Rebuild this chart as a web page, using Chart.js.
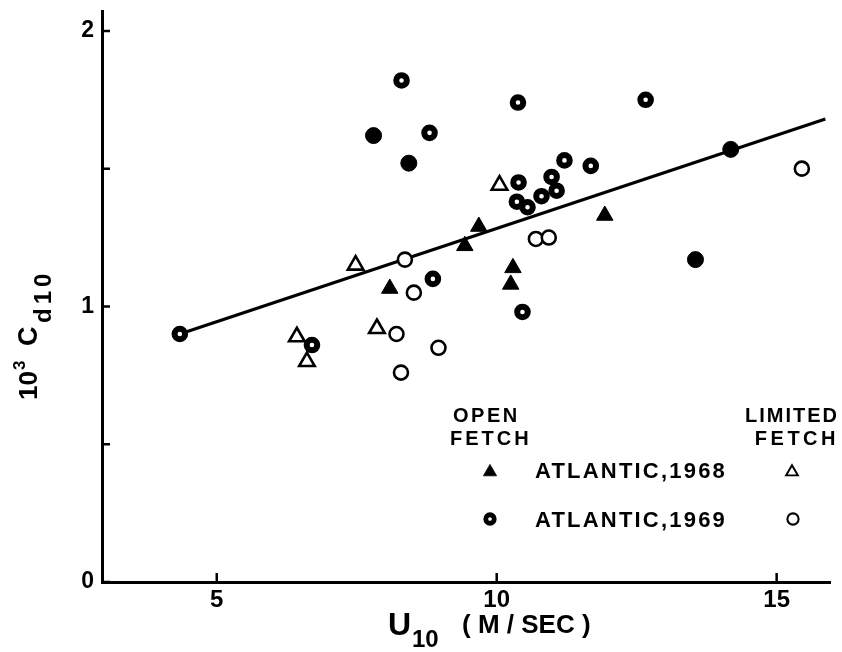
<!DOCTYPE html>
<html>
<head>
<meta charset="utf-8">
<script src="https://cdn.jsdelivr.net/npm/chart.js@4/dist/chart.umd.min.js"></script>
<style>
  html, body { margin: 0; padding: 0; background: #fff; }
  canvas { display: block; }
</style>
</head>
<body>
<canvas id="cd" width="842" height="652"></canvas>
<script>
// Wind speed U10 (m/s) and drag coefficient 10^3 * Cd10
const open1968U  = [8.09, 9.43, 9.68, 10.29, 10.25, 11.93];
const open1968Cd = [1.065, 1.22, 1.29, 1.14, 1.08, 1.33];

const limited1968U  = [6.43, 6.61, 7.48, 7.86, 10.05];
const limited1968Cd = [0.89, 0.80, 1.15, 0.92, 1.44];

const open1969U  = [4.34, 8.30, 8.80, 6.70, 8.86, 10.39, 10.36, 10.55, 10.80, 10.98, 11.07, 11.21, 11.68, 12.66, 10.46, 10.38];
const open1969Cd = [0.90, 1.82, 1.63, 0.86, 1.10, 1.45, 1.38, 1.36, 1.40, 1.47, 1.42, 1.53, 1.51, 1.75, 0.98, 1.74];

const limited1969U  = [8.36, 8.52, 8.21, 8.96, 8.29, 10.70, 10.93, 15.45];
const limited1969Cd = [1.17, 1.05, 0.90, 0.85, 0.76, 1.245, 1.25, 1.50];

const solidU  = [7.80, 8.43, 14.18, 13.55];
const solidCd = [1.62, 1.52, 1.57, 1.17];

// fitted line end points
const fitU  = [4.34, 15.87];
const fitCd = [0.90, 1.68];

const xTicks = [5, 10, 15];
const yTicks = [0, 0.5, 1, 1.5, 2];
const yLabelled = [0, 1, 2];

const FONT = '"Liberation Sans", Arial, Helvetica, sans-serif';
const pts = (xs, ys) => xs.map((x, i) => ({ x, y: ys[i] }));

// marker styles shared by plot and key
const styles = {
  open1968:    { pointStyle: 'triangle', radius: 9.5, borderWidth: 1,   fill: '#000', stroke: '#000' },
  limited1968: { pointStyle: 'triangle', radius: 9,   borderWidth: 2.6, fill: 'rgba(0,0,0,0)', stroke: '#000' },
  open1969:    { pointStyle: 'circle',   radius: 5.3, borderWidth: 6,   fill: '#fff', stroke: '#000' },
  limited1969: { pointStyle: 'circle',   radius: 7,   borderWidth: 2.6, fill: '#fff', stroke: '#000' },
  solid:       { pointStyle: 'circle',   radius: 8,   borderWidth: 1,   fill: '#000', stroke: '#000' }
};

function pointSet(label, xs, ys, st) {
  return {
    label, data: pts(xs, ys), order: 1,
    pointStyle: st.pointStyle, pointRadius: st.radius, pointHoverRadius: st.radius,
    pointBorderWidth: st.borderWidth, pointBackgroundColor: st.fill, pointBorderColor: st.stroke
  };
}

function drawMarker(ctx, st, x, y, scale) {
  ctx.save();
  ctx.fillStyle = st.fill;
  ctx.strokeStyle = st.stroke;
  ctx.lineWidth = st.borderWidth * scale;
  Chart.helpers.drawPoint(ctx, {
    pointStyle: st.pointStyle, radius: st.radius * scale, rotation: 0,
    borderWidth: st.borderWidth * scale
  }, x, y);
  ctx.restore();
}

function text(ctx, str, x, y, size, spacing, align) {
  ctx.font = 'bold ' + size + 'px ' + FONT;
  ctx.letterSpacing = (spacing || 0) + 'px';
  ctx.textAlign = align || 'left';
  ctx.fillText(str, x, y);
}

const decorations = {
  id: 'decorations',
  afterDraw(chart) {
    const { ctx, chartArea: a, scales: { x, y } } = chart;
    ctx.save();
    // inward tick marks
    ctx.strokeStyle = '#000';
    ctx.lineWidth = 2.5;
    ctx.beginPath();
    yTicks.forEach(v => { const py = y.getPixelForValue(v); ctx.moveTo(a.left, py); ctx.lineTo(a.left + 8, py); });
    xTicks.forEach(v => { const px = x.getPixelForValue(v); ctx.moveTo(px, a.bottom); ctx.lineTo(px, a.bottom - 9); });
    ctx.stroke();

    ctx.fillStyle = '#000';
    ctx.textBaseline = 'alphabetic';

    // x axis title
    text(ctx, 'U', 388, 635, 32);
    text(ctx, '10', 412, 647, 24);
    text(ctx, '( M / SEC )', 462, 633, 26);

    // y axis title, rotated
    ctx.save();
    ctx.translate(37, 400);
    ctx.rotate(-Math.PI / 2);
    text(ctx, '10', 0, 0, 26);
    text(ctx, '3', 30, -12, 17);
    text(ctx, 'C', 54, 0, 27);
    text(ctx, 'd10', 77, 14, 24, 4);
    ctx.restore();

    // key
    text(ctx, 'OPEN', 453, 422, 20, 2.5);
    text(ctx, 'FETCH', 450, 445, 20, 3);
    text(ctx, 'LIMITED', 839, 422, 20, 2, 'right');
    text(ctx, 'FETCH', 839, 445, 20, 3.5, 'right');
    text(ctx, 'ATLANTIC,1968', 535, 478, 22, 2.2);
    text(ctx, 'ATLANTIC,1969', 535, 527, 22, 2.2);
    ctx.restore();

    drawMarker(ctx, styles.open1968, 490, 472, 0.8);
    drawMarker(ctx, styles.limited1968, 792, 472, 0.75);
    drawMarker(ctx, styles.open1969, 490, 519, 0.8);
    drawMarker(ctx, styles.limited1969, 793, 519, 0.8);
  }
};

new Chart(document.getElementById('cd'), {
  type: 'scatter',
  data: {
    datasets: [
      { label: 'fit', type: 'line', data: pts(fitU, fitCd), borderColor: '#000', borderWidth: 3.2,
        pointRadius: 0, fill: false, order: 10 },
      pointSet('Open fetch, Atlantic 1968', open1968U, open1968Cd, styles.open1968),
      pointSet('Limited fetch, Atlantic 1968', limited1968U, limited1968Cd, styles.limited1968),
      pointSet('Open fetch, Atlantic 1969', open1969U, open1969Cd, styles.open1969),
      pointSet('Limited fetch, Atlantic 1969', limited1969U, limited1969Cd, styles.limited1969),
      pointSet('Other runs', solidU, solidCd, styles.solid)
    ]
  },
  options: {
    responsive: false,
    animation: false,
    devicePixelRatio: 1,
    layout: { padding: { left: 0, top: 8, right: 11, bottom: 0 } },
    plugins: { legend: { display: false }, tooltip: { enabled: false } },
    scales: {
      x: {
        type: 'linear', min: 2.95, max: 15.96,
        afterFit(s) { s.height = 70; s.paddingLeft = 0; s.paddingRight = 0; },
        afterBuildTicks(s) { s.ticks = xTicks.map(v => ({ value: v })); },
        grid: { display: true, drawOnChartArea: false, drawTicks: false, color: 'rgba(0,0,0,0)' },
        border: { display: true, color: '#000', width: 3 },
        ticks: { color: '#000', font: { family: FONT, size: 24, weight: 'bold' }, padding: 4,
                 maxRotation: 0, autoSkip: false }
      },
      y: {
        type: 'linear', min: 0, max: 2.07,
        afterFit(s) { s.width = 102; s.paddingTop = 0; s.paddingBottom = 0; },
        afterBuildTicks(s) { s.ticks = yTicks.map(v => ({ value: v })); },
        grid: { display: true, drawOnChartArea: false, drawTicks: false, color: 'rgba(0,0,0,0)' },
        border: { display: true, color: '#000', width: 3 },
        ticks: { color: '#000', font: { family: FONT, size: 23, weight: 'bold' }, padding: 8,
                 autoSkip: false,
                 callback: v => (yLabelled.includes(v) ? String(v) : '') }
      }
    }
  },
  plugins: [decorations]
});
</script>
</body>
</html>
